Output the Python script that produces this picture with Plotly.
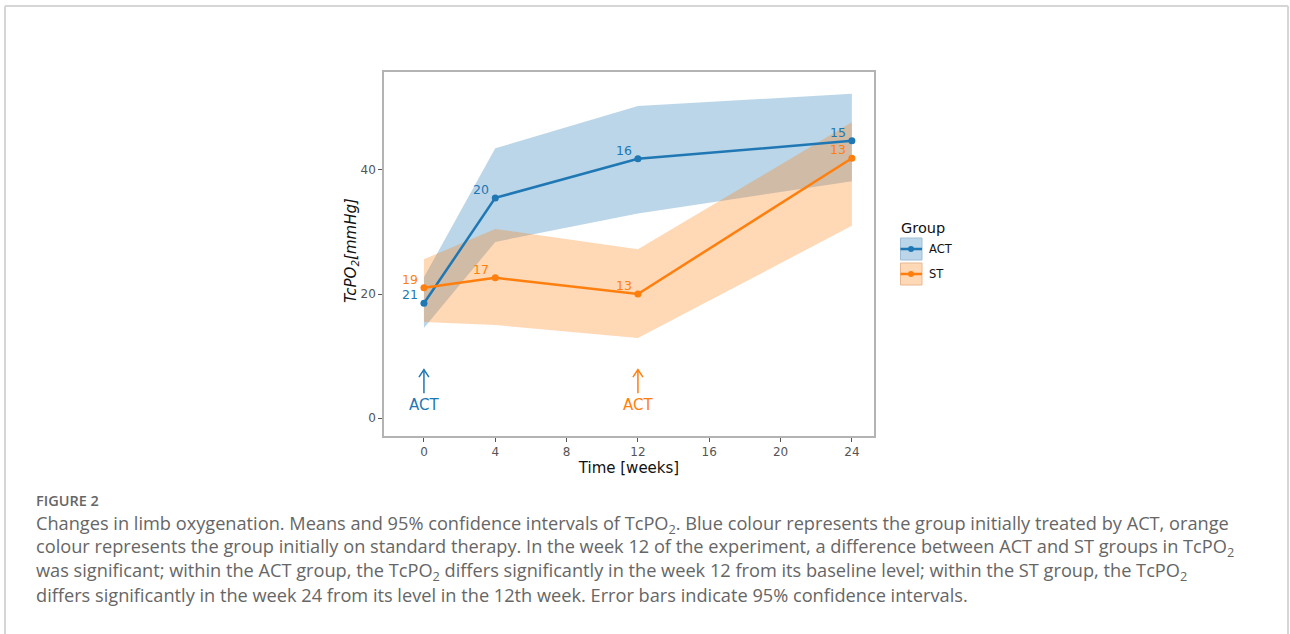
import plotly.graph_objects as go

weeks = [0, 4, 12, 24]
act_mean = [18.5, 35.5, 41.8, 44.7]
act_lo = [14.5, 28.4, 33.0, 38.2]
act_hi = [22.7, 43.5, 50.3, 52.3]
act_n = [21, 20, 16, 15]
st_mean = [21.0, 22.6, 20.0, 41.9]
st_lo = [15.5, 15.0, 12.9, 31.0]
st_hi = [25.6, 30.5, 27.2, 47.7]
st_n = [19, 17, 13, 13]
x_ticks = [0, 4, 8, 12, 16, 20, 24]
y_ticks = [0, 20, 40]
arrow_weeks = [0, 12]
arrow_labels = ["ACT", "ACT"]

BLUE = "#1f77b4"
ORANGE = "#ff7f0e"
BLUE_F = "rgba(31,119,180,0.3)"
ORANGE_F = "rgba(255,127,14,0.3)"
FONT = "DejaVu Sans"

fig = go.Figure()
for lo, hi, fc in [(act_lo, act_hi, BLUE_F), (st_lo, st_hi, ORANGE_F)]:
    fig.add_trace(go.Scatter(x=weeks, y=lo, mode="lines", line=dict(width=0),
                             showlegend=False, hoverinfo="skip"))
    fig.add_trace(go.Scatter(x=weeks, y=hi, mode="lines", line=dict(width=0),
                             fill="tonexty", fillcolor=fc, showlegend=False, hoverinfo="skip"))
for m, c in [(act_mean, BLUE), (st_mean, ORANGE)]:
    fig.add_trace(go.Scatter(x=weeks, y=m, mode="lines+markers",
                             line=dict(color=c, width=2.5), marker=dict(color=c, size=7),
                             showlegend=False))

ann = []
for m, ns, c in [(act_mean, act_n, BLUE), (st_mean, st_n, ORANGE)]:
    for x, y, n in zip(weeks, m, ns):
        ann.append(dict(x=x, y=y, text=str(n), showarrow=False, xanchor="right",
                        yanchor="bottom", xshift=-4, yshift=-1,
                        font=dict(family=FONT, size=12.5, color=c)))

shapes = []
for w, lab, c in zip(arrow_weeks, arrow_labels, [BLUE, ORANGE]):
    ann.append(dict(x=w, y=2.1, text=lab, showarrow=False, xanchor="center",
                    yanchor="middle", font=dict(family=FONT, size=15, color=c)))
    shapes.append(dict(type="line", xref="x", yref="y", x0=w, x1=w, y0=4.0, y1=7.8,
                       line=dict(color=c, width=1.5)))
    shapes.append(dict(type="path", xref="x", yref="y",
                       path=f"M {w-0.28},{6.6} L {w},{7.8} L {w+0.28},{6.6}",
                       line=dict(color=c, width=1.5)))

# plot area in pixels: left 384, right 874, top 72, bottom 436
L, R, T, B = 384, 874, 72, 436
def px(xp):
    return (xp - L) / (R - L)
def py(yp):
    return (B - yp) / (B - T)

# page border
for (x0, y0, x1, y1) in [(5, 6, 1288, 6), (5, 6, 5, 640), (1288, 6, 1288, 640)]:
    shapes.append(dict(type="line", xref="paper", yref="paper",
                       x0=px(x0), x1=px(x1), y0=py(y0), y1=py(y1),
                       line=dict(color="#d6d6d6", width=2)))

# y axis title
ann.append(dict(xref="paper", yref="paper", x=px(351), y=py(251),
                text="<i>TcPO<sub>2</sub>[mmHg]</i>", textangle=-90, showarrow=False,
                xanchor="center", yanchor="middle",
                font=dict(family=FONT, size=15, color="#111")))

# legend
ann.append(dict(xref="paper", yref="paper", x=px(899), y=py(228), text="Group",
                showarrow=False, xanchor="left", yanchor="middle",
                font=dict(family=FONT, size=14.5, color="#111")))
for i, (lab, c, fc, edge) in enumerate([("ACT", BLUE, BLUE_F, "#9fbdd6"),
                                         ("ST", ORANGE, ORANGE_F, "#e7b891")]):
    y0 = 238 + i * 25
    shapes.append(dict(type="rect", xref="paper", yref="paper",
                       x0=px(900.5), x1=px(922), y0=py(y0), y1=py(y0 + 22),
                       fillcolor=fc, line=dict(color=edge, width=1)))
    shapes.append(dict(type="line", xref="paper", yref="paper",
                       x0=px(900.5), x1=px(922), y0=py(y0 + 11), y1=py(y0 + 11),
                       line=dict(color=c, width=2.5)))
    shapes.append(dict(type="circle", xref="paper", yref="paper",
                       x0=px(908), x1=px(914), y0=py(y0 + 8), y1=py(y0 + 14),
                       fillcolor=c, line=dict(color=c, width=0)))
    ann.append(dict(xref="paper", yref="paper", x=px(927), y=py(y0 + 11), text=lab,
                    showarrow=False, xanchor="left", yanchor="middle",
                    font=dict(family=FONT, size=11.5, color="#111")))

# caption
CAP = "Open Sans"
ann.append(dict(xref="paper", yref="paper", x=px(34), y=py(500), text="FIGURE 2",
                showarrow=False, xanchor="left", yanchor="middle",
                font=dict(family=CAP, size=14.5, color="#666", weight=600)))
cap_lines = [
    "Changes in limb oxygenation. Means and 95% confidence intervals of TcPO<sub>2</sub>. Blue colour represents the group initially treated by ACT, orange",
    "colour represents the group initially on standard therapy. In the week 12 of the experiment, a difference between ACT and ST groups in TcPO<sub>2</sub>",
    "was significant; within the ACT group, the TcPO<sub>2</sub> differs significantly in the week 12 from its baseline level; within the ST group, the TcPO<sub>2</sub>",
    "differs significantly in the week 24 from its level in the 12th week. Error bars indicate 95% confidence intervals.",
]
for i, line in enumerate(cap_lines):
    ann.append(dict(xref="paper", yref="paper", x=px(34), y=py(524 + i * 23.5), text=line,
                    showarrow=False, xanchor="left", yanchor="middle",
                    font=dict(family=CAP, size=18.2, color="#666")))

axis_common = dict(showline=True, mirror=True, linecolor="#b3b3b3", linewidth=1.5,
                   ticks="outside", ticklen=4, tickcolor="#555", tickwidth=1,
                   showgrid=False, zeroline=False,
                   tickfont=dict(family=FONT, size=12, color="#555"))
fig.update_layout(
    width=1290, height=634,
    margin=dict(l=L, r=1290 - R, t=T, b=634 - B, autoexpand=False),
    plot_bgcolor="white", paper_bgcolor="white",
    xaxis=dict(range=[-2.24, 25.24], tickvals=x_ticks,
               title=dict(text="Time [weeks]", standoff=3,
                          font=dict(family=FONT, size=15, color="#111")),
               **axis_common),
    yaxis=dict(range=[-2.9, 55.8], tickvals=y_ticks, **axis_common),
    annotations=ann, shapes=shapes, showlegend=False,
)
fig.write_html("out.html", config={"displayModeBar": False},
               post_script="document.body.style.margin='0';document.body.style.overflow='hidden';")
